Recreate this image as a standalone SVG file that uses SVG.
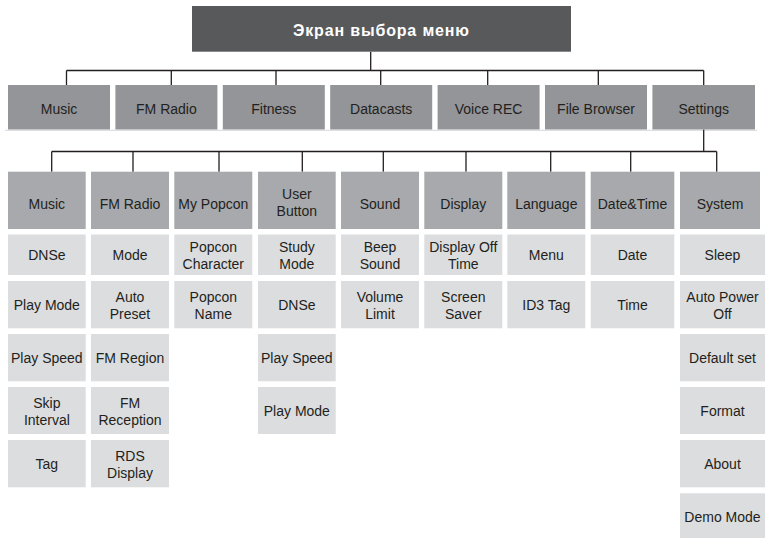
<svg xmlns="http://www.w3.org/2000/svg" width="765" height="538" viewBox="0 0 765 538">
<style>
.ttl{fill:#58595b}
.l1{fill:#939598}
.l2{fill:#a7a9ac}
.l3{fill:#dcddde}
text{font-family:"Liberation Sans",Arial,sans-serif;font-size:14px;fill:#231f20;text-anchor:middle}
text.tt{font-weight:bold;font-size:16px;fill:#ffffff}
.cn{stroke:#231f20;stroke-width:1.3;fill:none}
</style>
<rect width="765" height="538" fill="#ffffff"/>
<line x1="5" y1="130.3" x2="757" y2="130.3" stroke="#dedfe0" stroke-width="1.2"/>
<g id="connectors" class="cn">
<path d="M370.7 51.7V70.5M66.5 70.5H703.7M66.5 70.5V85M171.3 70.5V85M276 70.5V85M380.7 70.5V85M487.7 70.5V85M598.3 70.5V85M703.7 70.5V85"/>
<path d="M703.7 129.5V151.5M51.7 151.5H716.7M51.7 151.5V171.7M133 151.5V171.7M219 151.5V171.7M302.3 151.5V171.7M383.3 151.5V171.7M466 151.5V171.7M550.7 151.5V171.7M630.7 151.5V171.7M716.7 151.5V171.7"/>
</g>
<g id="root"><rect class="ttl" x="192" y="6" width="379" height="45.7"/><text class="tt" x="381" y="36" textLength="176" lengthAdjust="spacing">Экран выбора меню</text></g>
<g id="m-music"><rect class="l1" x="8" y="85" width="102" height="44.5"/><text x="59" y="113.7">Music</text></g>
<g id="m-fmradio"><rect class="l1" x="115.4" y="85" width="102" height="44.5"/><text x="166.4" y="113.7">FM Radio</text></g>
<g id="m-fitness"><rect class="l1" x="222.8" y="85" width="102" height="44.5"/><text x="273.8" y="113.7">Fitness</text></g>
<g id="m-datacasts"><rect class="l1" x="330.2" y="85" width="102" height="44.5"/><text x="381.2" y="113.7">Datacasts</text></g>
<g id="m-voicerec"><rect class="l1" x="437.6" y="85" width="102" height="44.5"/><text x="488.6" y="113.7">Voice REC</text></g>
<g id="m-filebrowser"><rect class="l1" x="545" y="85" width="102" height="44.5"/><text x="596" y="113.7">File Browser</text></g>
<g id="m-settings"><rect class="l1" x="652.4" y="85" width="102.6" height="44.5"/><text x="703.7" y="113.7">Settings</text></g>
<g id="s-music"><rect class="l2" x="8" y="171.7" width="77.7" height="57.3"/><text x="46.85" y="208.5">Music</text></g>
<g id="s-fmradio"><rect class="l2" x="91" y="171.7" width="78" height="57.3"/><text x="130" y="208.5">FM Radio</text></g>
<g id="s-mypopcon"><rect class="l2" x="174.3" y="171.7" width="78" height="57.3"/><text x="213.3" y="208.5">My Popcon</text></g>
<g id="s-userbutton"><rect class="l2" x="258" y="171.7" width="77.7" height="57.3"/><text x="296.85" y="199">User</text><text x="296.85" y="216.3">Button</text></g>
<g id="s-sound"><rect class="l2" x="341" y="171.7" width="78" height="57.3"/><text x="380" y="208.5">Sound</text></g>
<g id="s-display"><rect class="l2" x="424.3" y="171.7" width="78" height="57.3"/><text x="463.3" y="208.5">Display</text></g>
<g id="s-language"><rect class="l2" x="507.3" y="171.7" width="78" height="57.3"/><text x="546.3" y="208.5">Language</text></g>
<g id="s-datetime"><rect class="l2" x="590.7" y="171.7" width="83.6" height="57.3"/><text x="632.5" y="208.5">Date&amp;Time</text></g>
<g id="s-system"><rect class="l2" x="680" y="171.7" width="80" height="57.3"/><text x="720" y="208.5">System</text></g>
<g id="music-items">
<g id="music-dnse"><rect class="l3" x="8" y="234.5" width="77.7" height="40.5"/><text x="46.85" y="260">DNSe</text></g>
<g id="music-playmode"><rect class="l3" x="8" y="281" width="77.7" height="47.3"/><text x="46.85" y="310">Play Mode</text></g>
<g id="music-playspeed"><rect class="l3" x="8" y="334" width="77.7" height="47.3"/><text x="46.85" y="363">Play Speed</text></g>
<g id="music-skip"><rect class="l3" x="8" y="387" width="77.7" height="47"/><text x="46.85" y="407.5">Skip</text><text x="46.85" y="424.5">Interval</text></g>
<g id="music-tag"><rect class="l3" x="8" y="440" width="77.7" height="47.3"/><text x="46.85" y="469">Tag</text></g>
</g>
<g id="fm-items">
<g id="fm-mode"><rect class="l3" x="91" y="234.5" width="78" height="40.5"/><text x="130" y="260">Mode</text></g>
<g id="fm-autopreset"><rect class="l3" x="91" y="281" width="78" height="47.3"/><text x="130" y="301.7">Auto</text><text x="130" y="318.7">Preset</text></g>
<g id="fm-region"><rect class="l3" x="91" y="334" width="78" height="47.3"/><text x="130" y="363">FM Region</text></g>
<g id="fm-reception"><rect class="l3" x="91" y="387" width="78" height="47"/><text x="130" y="407.5">FM</text><text x="130" y="424.5">Reception</text></g>
<g id="fm-rds"><rect class="l3" x="91" y="440" width="78" height="47.3"/><text x="130" y="460.7">RDS</text><text x="130" y="477.7">Display</text></g>
</g>
<g id="popcon-items">
<g id="popcon-char"><rect class="l3" x="174.3" y="234.5" width="78" height="40.5"/><text x="213.3" y="251.7">Popcon</text><text x="213.3" y="269">Character</text></g>
<g id="popcon-name"><rect class="l3" x="174.3" y="281" width="78" height="47.3"/><text x="213.3" y="301.7">Popcon</text><text x="213.3" y="318.7">Name</text></g>
</g>
<g id="ub-items">
<g id="ub-study"><rect class="l3" x="258" y="234.5" width="77.7" height="40.5"/><text x="296.85" y="251.7">Study</text><text x="296.85" y="269">Mode</text></g>
<g id="ub-dnse"><rect class="l3" x="258" y="281" width="77.7" height="47.3"/><text x="296.85" y="310">DNSe</text></g>
<g id="ub-playspeed"><rect class="l3" x="258" y="334" width="77.7" height="47.3"/><text x="296.85" y="363">Play Speed</text></g>
<g id="ub-playmode"><rect class="l3" x="258" y="387" width="77.7" height="47"/><text x="296.85" y="415.8">Play Mode</text></g>
</g>
<g id="sound-items">
<g id="sound-beep"><rect class="l3" x="341" y="234.5" width="78" height="40.5"/><text x="380" y="251.7">Beep</text><text x="380" y="269">Sound</text></g>
<g id="sound-volume"><rect class="l3" x="341" y="281" width="78" height="47.3"/><text x="380" y="301.7">Volume</text><text x="380" y="318.7">Limit</text></g>
</g>
<g id="display-items">
<g id="display-off"><rect class="l3" x="424.3" y="234.5" width="78" height="40.5"/><text x="463.3" y="251.7">Display Off</text><text x="463.3" y="269">Time</text></g>
<g id="display-saver"><rect class="l3" x="424.3" y="281" width="78" height="47.3"/><text x="463.3" y="301.7">Screen</text><text x="463.3" y="318.7">Saver</text></g>
</g>
<g id="lang-items">
<g id="lang-menu"><rect class="l3" x="507.3" y="234.5" width="78" height="40.5"/><text x="546.3" y="260">Menu</text></g>
<g id="lang-id3"><rect class="l3" x="507.3" y="281" width="78" height="47.3"/><text x="546.3" y="310">ID3 Tag</text></g>
</g>
<g id="dt-items">
<g id="dt-date"><rect class="l3" x="590.7" y="234.5" width="83.6" height="40.5"/><text x="632.5" y="260">Date</text></g>
<g id="dt-time"><rect class="l3" x="590.7" y="281" width="83.6" height="47.3"/><text x="632.5" y="310">Time</text></g>
</g>
<g id="sys-items">
<g id="sys-sleep"><rect class="l3" x="680" y="234.5" width="85" height="40.5"/><text x="722.5" y="260">Sleep</text></g>
<g id="sys-autopower"><rect class="l3" x="680" y="281" width="85" height="47.3"/><text x="722.5" y="301.7">Auto Power</text><text x="722.5" y="318.7">Off</text></g>
<g id="sys-default"><rect class="l3" x="680" y="334" width="85" height="47.3"/><text x="722.5" y="363">Default set</text></g>
<g id="sys-format"><rect class="l3" x="680" y="387" width="85" height="47"/><text x="722.5" y="415.8">Format</text></g>
<g id="sys-about"><rect class="l3" x="680" y="440" width="85" height="47.3"/><text x="722.5" y="469">About</text></g>
<g id="sys-demo"><rect class="l3" x="680" y="493.3" width="85" height="47"/><text x="722.5" y="522">Demo Mode</text></g>
</g>
</svg>
